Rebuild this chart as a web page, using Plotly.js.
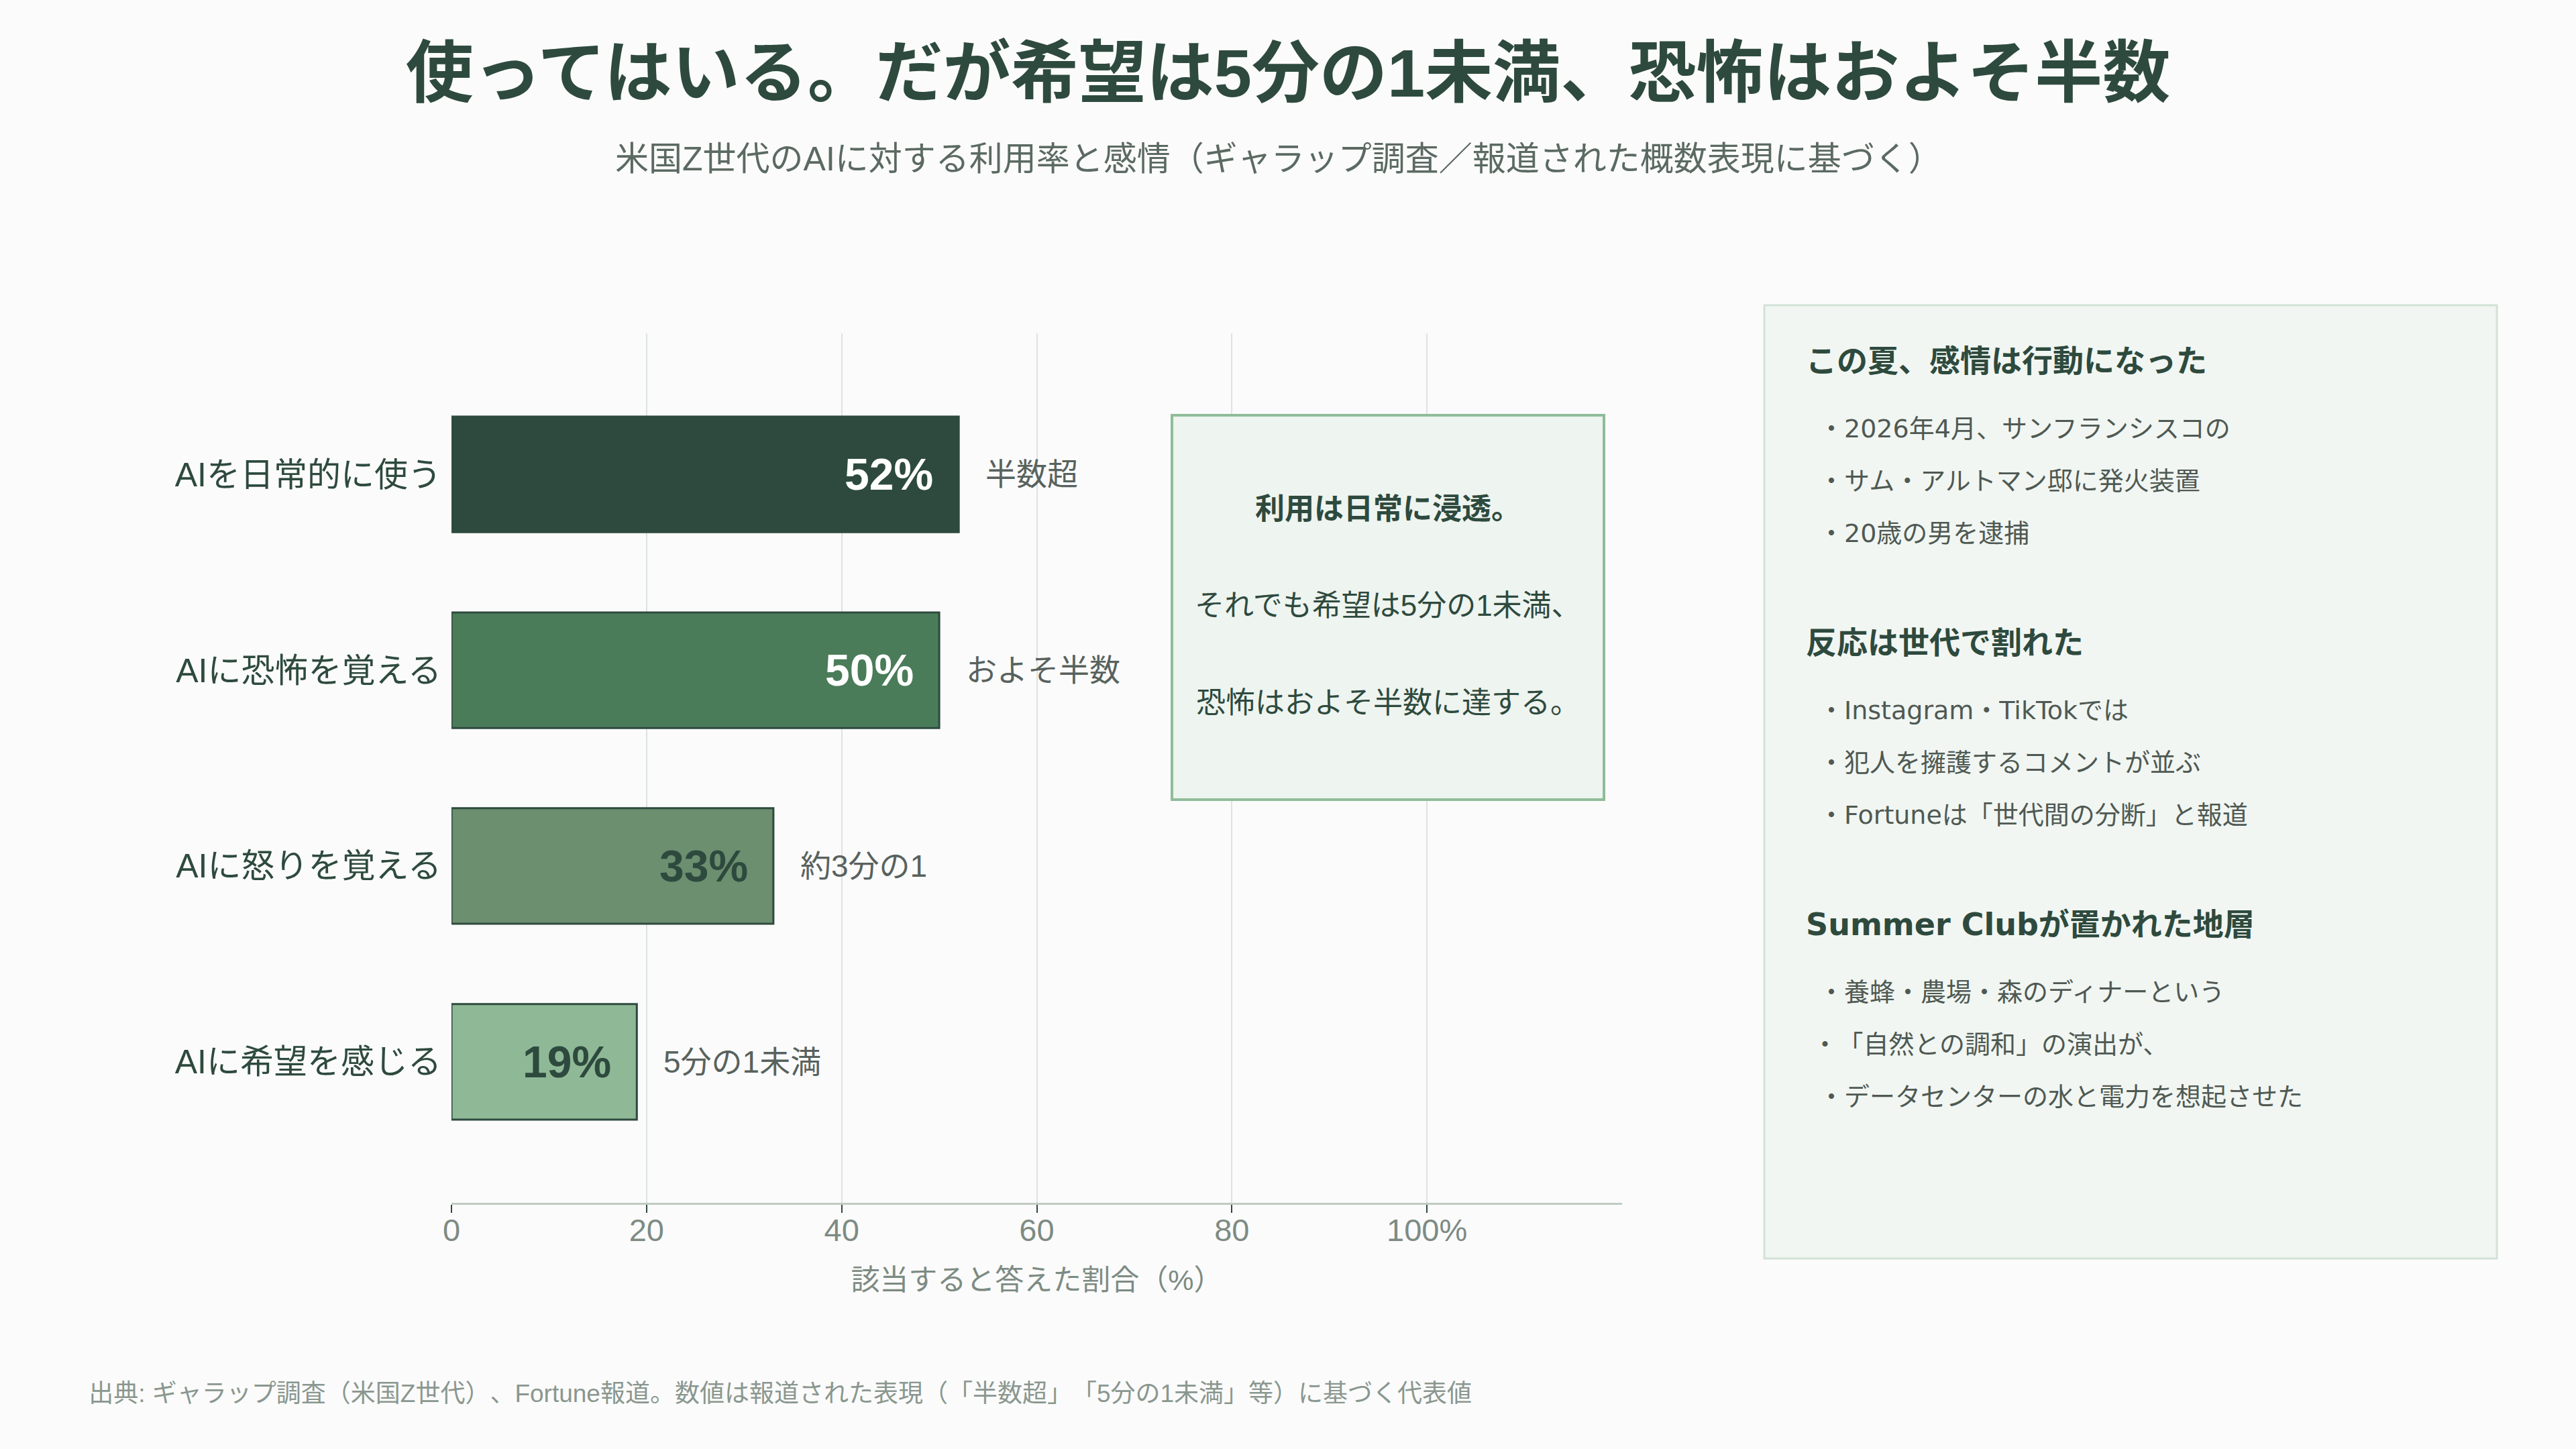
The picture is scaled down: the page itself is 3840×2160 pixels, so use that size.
<!DOCTYPE html>
<html>
<head>
<meta charset="utf-8">
<script src="https://cdn.plot.ly/plotly-3.0.1.min.js"></script>
<style>
  html, body { margin: 0; padding: 0; background: #fbfbfb; }
  #chart { width: 3840px; height: 2160px; }
  #chart text { text-spacing-trim: space-all; font-feature-settings: "chws" 0, "halt" 0; }
</style>
</head>
<body>
<div id="chart"></div>
<script>
// data
const categories = ['AIを日常的に使う', 'AIに恐怖を覚える', 'AIに怒りを覚える', 'AIに希望を感じる'];
const values = [52, 50, 33, 19];
const valueLabels = ['52%', '50%', '33%', '19%'];
const notes = ['半数超', 'およそ半数', '約3分の1', '5分の1未満'];
const xTickVals = [0, 20, 40, 60, 80, 100];
const xTickText = ['0', '20', '40', '60', '80', '100%'];

const calloutLines = ['利用は日常に浸透。', 'それでも希望は5分の1未満、', '恐怖はおよそ半数に達する。'];

const panelHeads = ['この夏、感情は行動になった', '反応は世代で割れた', 'Summer Clubが置かれた地層'];
const panelItems = [
    ['2026年4月、サンフランシスコの', 'サム・アルトマン邸に発火装置', '20歳の男を逮捕'],
    ['Instagram・TikTokでは', '犯人を擁護するコメントが並ぶ', 'Fortuneは「世代間の分断」と報道'],
    ['養蜂・農場・森のディナーという', '「自然との調和」の演出が、', 'データセンターの水と電力を想起させた']
];

// styles
const barColors = ['#2e4a3e', '#4a7c59', '#6b8f6f', '#8fb996'];
const labelColors = ['#ffffff', '#ffffff', '#2e4a3e', '#2e4a3e'];
const dark = '#2e4a3e';
const FONT = "'Liberation Sans', 'Noto Sans CJK JP', sans-serif";
const PANEL_FONT = "'DejaVu Sans', 'Noto Sans CJK JP', sans-serif";

// pixel -> paper helpers for the side furniture
const W = 3840, H = 2160;
const M = {l: 673, r: 1422, t: 497, b: 367};
const plotW = W - M.l - M.r;
const plotH = H - M.t - M.b;
const px = x => (x - M.l) / plotW;
const py = y => (H - M.b - y) / plotH;

const trace = {
    type: 'bar',
    orientation: 'h',
    x: values,
    y: categories,
    width: 0.59,
    marker: {color: barColors, line: {color: dark, width: 3}},
    hoverinfo: 'none'
};

const annotations = [];

values.forEach((v, i) => {
    annotations.push({
        x: v, y: categories[i], xref: 'x', yref: 'y',
        text: valueLabels[i], showarrow: false,
        xanchor: 'right', yanchor: 'middle', xshift: -36,
        font: {family: FONT, size: 66, color: labelColors[i], weight: 700}
    });
    annotations.push({
        x: v, y: categories[i], xref: 'x', yref: 'y',
        text: notes[i], showarrow: false,
        xanchor: 'left', yanchor: 'middle', xshift: 38,
        font: {family: FONT, size: 46, color: '#58625d'}
    });
});

// subtitle
annotations.push({
    xref: 'paper', yref: 'paper', x: px(1906), y: py(237),
    text: '米国Z世代のAIに対する利用率と感情（ギャラップ調査／報道された概数表現に基づく）',
    showarrow: false, xanchor: 'center', yanchor: 'middle',
    font: {family: FONT, size: 50, color: '#5b6a62'}
});

// callout box text
const calloutY = [758, 902, 1047];
calloutLines.forEach((t, i) => {
    annotations.push({
        xref: 'paper', yref: 'paper', x: px(2069), y: py(calloutY[i]),
        text: t, showarrow: false, xanchor: 'center', yanchor: 'middle',
        font: {family: FONT, size: 44, color: dark, weight: i === 0 ? 700 : 400}
    });
});

// right panel text
const headY = [538, 958, 1378];
panelHeads.forEach((h, s) => {
    annotations.push({
        xref: 'paper', yref: 'paper', x: px(2690), y: py(headY[s]),
        text: h, showarrow: false, xanchor: 'left', yanchor: 'middle',
        font: {family: PANEL_FONT, size: 46, color: dark, weight: 700}
    });
    panelItems[s].forEach((t, j) => {
        annotations.push({
            xref: 'paper', yref: 'paper', x: px(2709), y: py(headY[s] + 101 + j * 78),
            text: '・' + t, showarrow: false, xanchor: 'left', yanchor: 'middle',
            font: {family: PANEL_FONT, size: 38, color: '#4f5953'}
        });
    });
});

// footer
annotations.push({
    xref: 'paper', yref: 'paper', x: px(158), y: py(2077),
    text: '出典: ギャラップ調査（米国Z世代）、Fortune報道。数値は報道された表現（「半数超」「5分の1未満」等）に基づく代表値',
    showarrow: false, xanchor: 'left', yanchor: 'middle',
    font: {family: FONT, size: 37, color: '#8a978f'}
});

const shapes = [
    {   // callout box
        type: 'rect', xref: 'paper', yref: 'paper',
        x0: px(1747), x1: px(2391), y0: py(1192), y1: py(619),
        fillcolor: '#eef4ef', line: {color: '#8fbc9a', width: 4}, layer: 'above'
    },
    {   // right side panel
        type: 'rect', xref: 'paper', yref: 'paper',
        x0: px(2630), x1: px(3722), y0: py(1876), y1: py(455),
        fillcolor: '#f1f6f2', line: {color: '#d2e2d6', width: 3}, layer: 'above'
    }
];

const layout = {
    width: W,
    height: H,
    paper_bgcolor: '#fbfbfb',
    plot_bgcolor: '#fbfbfb',
    margin: {l: M.l, r: M.r, t: M.t, b: M.b},
    showlegend: false,
    font: {family: FONT, color: dark},
    title: {
        text: '使ってはいる。だが希望は5分の1未満、恐怖はおよそ半数',
        x: 0.5, xref: 'container', xanchor: 'center',
        y: 1 - 109 / H, yref: 'container', yanchor: 'middle',
        font: {family: FONT, size: 101, color: dark, weight: 700}
    },
    xaxis: {
        range: [0, 120],
        tickvals: xTickVals,
        ticktext: xTickText,
        ticks: 'outside',
        ticklen: 12,
        tickwidth: 2,
        tickcolor: dark,
        ticklabelstandoff: -14,
        tickfont: {family: FONT, size: 47, color: '#7d8b83'},
        showgrid: true,
        gridcolor: '#dde3e0',
        gridwidth: 2,
        zeroline: false,
        showline: true,
        linecolor: '#bfcbc2',
        linewidth: 3,
        fixedrange: true,
        title: {
            text: '該当すると答えた割合（%）',
            standoff: 34,
            font: {family: FONT, size: 43, color: '#7d8b83'}
        }
    },
    yaxis: {
        type: 'category',
        range: [3.72, -0.72],
        showgrid: false,
        zeroline: false,
        showline: false,
        ticks: '',
        ticklabelstandoff: 14,
        tickfont: {family: FONT, size: 50, color: dark},
        fixedrange: true
    },
    shapes: shapes,
    annotations: annotations
};

Plotly.newPlot('chart', [trace], layout, {displayModeBar: false, staticPlot: true});
</script>
</body>
</html>
